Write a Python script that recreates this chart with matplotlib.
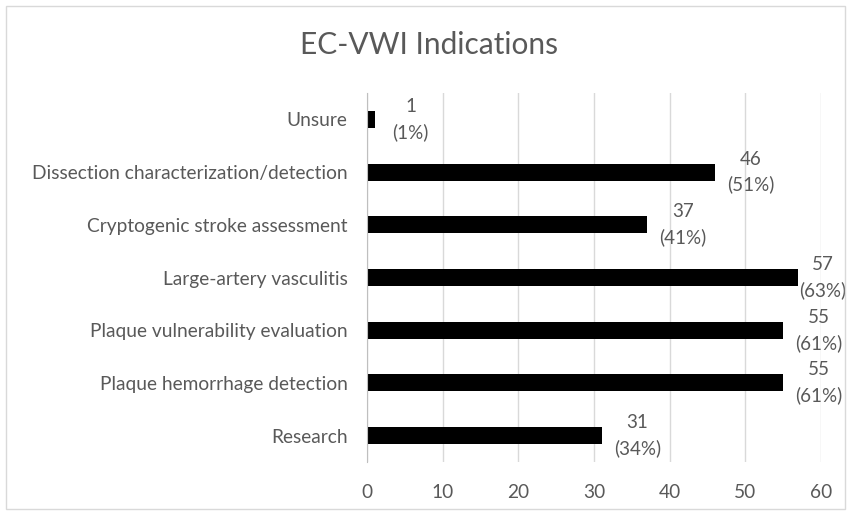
import matplotlib.pyplot as plt
from matplotlib.patches import Rectangle

categories = ['Research', 'Plaque hemorrhage detection', 'Plaque vulnerability evaluation',
              'Large-artery vasculitis', 'Cryptogenic stroke assessment',
              'Dissection characterization/detection', 'Unsure']
counts = [31, 55, 55, 57, 37, 46, 1]
percents = [34, 61, 61, 63, 41, 51, 1]
xticks = [0, 10, 20, 30, 40, 50, 60]

plt.rcParams['font.family'] = ['Lato', 'DejaVu Sans']
grey = '#595959'

W, H = 849, 515
fig = plt.figure(figsize=(W / 100, H / 100), dpi=100)
# plot area in pixels: x 367..821 (0..60), y 93..462
ax = fig.add_axes([367 / W, 1 - 462 / H, (821 - 367) / W, (462 - 93) / H])

ypos = list(range(len(categories)))
ax.barh(ypos, counts, height=0.32, color='black')
ax.set_xlim(0, 60)
ax.set_ylim(-0.5, len(categories) - 0.5)
ax.set_xticks(xticks)
ax.set_yticks(ypos)
ax.set_yticklabels(categories)
ax.tick_params(axis='both', length=0, colors=grey, labelsize=13.8)
ax.tick_params(axis='y', pad=14)
ax.tick_params(axis='x', pad=16)
ax.xaxis.grid(True, color='#d9d9d9', linewidth=1)
ax.set_axisbelow(True)
for s in ['top', 'right', 'bottom']:
    ax.spines[s].set_visible(False)
ax.spines['left'].set_color('#bfbfbf')

renderer = fig.canvas.get_renderer()
for y, c, p in zip(ypos, counts, percents):
    t = ax.annotate(f'{c}\n({p}%)', xy=(c, y), xytext=(36, 0), textcoords='offset pixels',
                    ha='center', va='center', fontsize=13.5, color=grey,
                    linespacing=1.55, annotation_clip=False)
    # keep labels inside the chart frame, as the original does
    bb = t.get_window_extent(renderer)
    if bb.x1 > W - 3:
        t.xyann = (36 - (bb.x1 - (W - 3)), 0)

fig.text(429 / W, 1 - 45 / H, 'EC-VWI Indications', ha='center', va='center',
         fontsize=21.5, color=grey)

fig.patches.append(Rectangle((6 / W, 6 / H), 839 / W, 503 / H, transform=fig.transFigure,
                             fill=False, edgecolor='#d9d9d9', linewidth=1))

fig.savefig('out.png', dpi=100)
